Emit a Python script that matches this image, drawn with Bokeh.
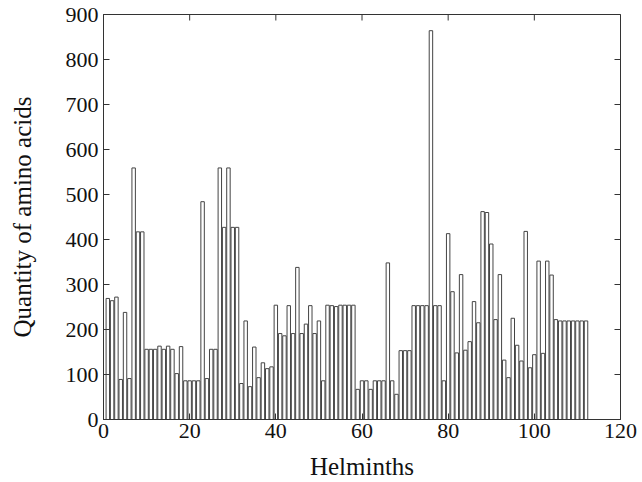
import math
from bokeh.plotting import figure
from bokeh.models import Range1d, FixedTicker, ColumnDataSource
from bokeh.embed import file_html
from bokeh.resources import INLINE

helminth = list(range(1, 113))
amino_acids = [269, 264, 272, 89, 238, 91, 559, 417, 417, 156,
               156, 156, 163, 156, 163, 156, 102, 162, 86, 86,
               86, 86, 484, 91, 156, 156, 559, 427, 559, 427,
               427, 80, 219, 73, 161, 93, 126, 113, 117, 254,
               191, 186, 253, 191, 338, 191, 212, 253, 191, 219,
               86, 254, 253, 251, 254, 254, 254, 254, 67, 86,
               86, 67, 86, 86, 86, 348, 86, 56, 153, 153,
               153, 253, 253, 253, 253, 864, 253, 253, 86, 413,
               284, 148, 322, 154, 173, 262, 215, 462, 460, 390,
               222, 322, 132, 93, 225, 165, 130, 418, 115, 144,
               352, 147, 352, 321, 222, 219, 219, 219, 219, 219,
               219, 219]
x_ticks = [0, 20, 40, 60, 80, 100, 120]
y_ticks = [0, 100, 200, 300, 400, 500, 600, 700, 800, 900]
x_min, x_max = 0, 120
y_min, y_max = 0, 900

FONT = "Liberation Serif"
AXC = "#333333"

p = figure(width=640, height=482, output_backend="svg", toolbar_location=None,
           x_range=Range1d(x_min, x_max), y_range=Range1d(y_min, y_max),
           min_border_left=103, min_border_right=20, min_border_top=14, min_border_bottom=63)
p.grid.visible = False
p.outline_line_color = AXC
p.outline_line_width = 1

src = ColumnDataSource(dict(x=helminth, top=amino_acids))
p.vbar(x="x", top="top", width=0.8, source=src, fill_color="white",
       line_color="#444444", line_width=1)

for ax in (p.xaxis[0], p.yaxis[0]):
    ax.axis_line_color = AXC
    ax.major_tick_line_color = AXC
    ax.major_tick_in = 6
    ax.major_tick_out = 0
    ax.minor_tick_line_color = None
    ax.major_label_text_font = FONT
    ax.major_label_text_font_size = "22px"
    ax.major_label_text_color = "#111111"
    ax.axis_label_text_font = FONT
    ax.axis_label_text_font_size = "25px"
    ax.axis_label_text_font_style = "normal"
    ax.axis_label_text_color = "#111111"

p.xaxis.ticker = FixedTicker(ticks=x_ticks)
p.yaxis.ticker = FixedTicker(ticks=y_ticks)
p.xaxis.axis_label = "Helminths"
p.yaxis.axis_label = "Quantity of amino acids"
p.xaxis.major_label_standoff = 4
p.xaxis.axis_label_standoff = 12
p.yaxis.major_label_standoff = 5
p.yaxis.axis_label_standoff = 27

# inward ticks on the top and right edges of the box (half of each dash is clipped by the frame)
p.scatter(x=x_ticks, y=[y_max] * len(x_ticks), marker="dash", size=12, angle=math.pi / 2,
          line_color=AXC, line_width=1)
p.scatter(x=[x_max] * len(y_ticks), y=y_ticks, marker="dash", size=12,
          line_color=AXC, line_width=1)

open("out.html", "w").write(file_html(p, INLINE))
